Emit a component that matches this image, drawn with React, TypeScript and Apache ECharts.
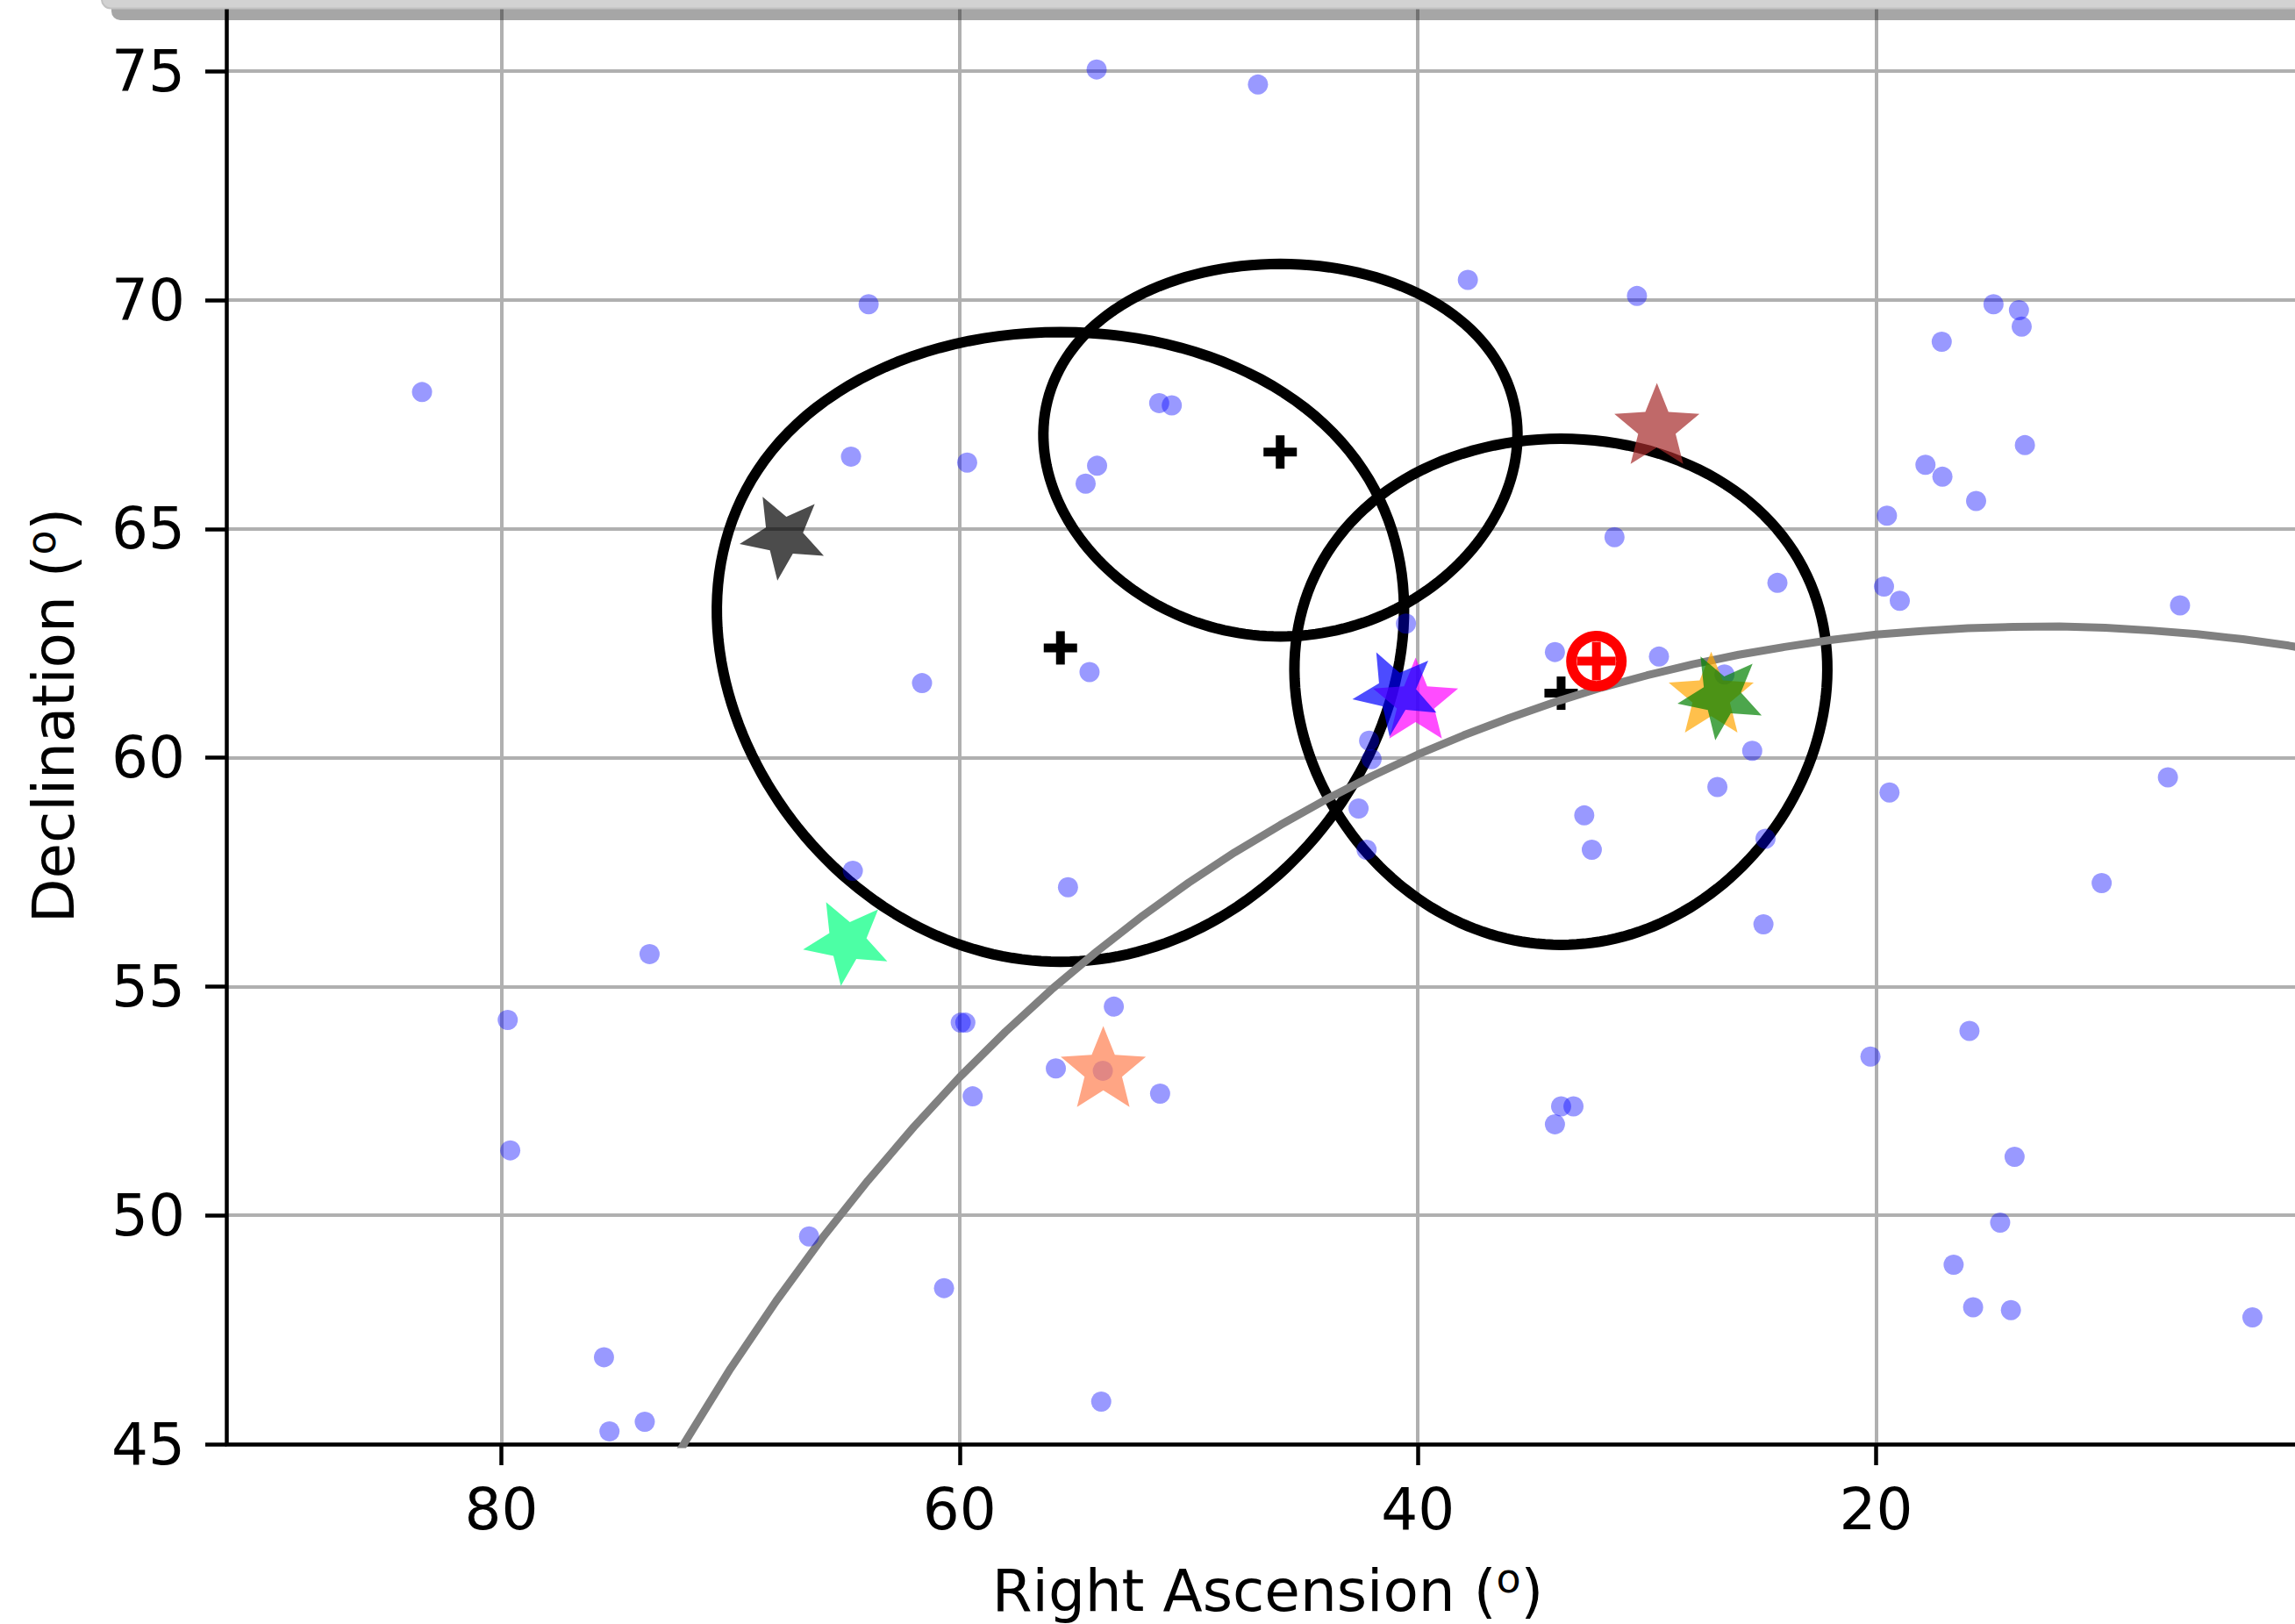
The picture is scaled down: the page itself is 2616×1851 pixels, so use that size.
import React, { useEffect, useRef } from "react";
import * as echarts from "echarts";

// Field sources (blue dots): Right Ascension / Declination in degrees
const dotRA = [83.46, 54.02, 46.98, 63.97, 37.82, 30.44, 14.88, 13.77, 13.65, 17.14, 13.51, 17.85, 17.11, 15.64, 19.53,
  51.29, 50.74, 64.74, 59.67, 54.0, 54.5, 61.64, 54.33, 40.52, 42.13, 42.02, 42.59, 42.24, 64.66, 55.27, 53.27,
  59.95, 59.75, 53.75, 55.8, 59.43, 51.25, 66.57, 60.68, 53.82, 79.61, 75.52, 75.28, 73.74, 73.53, 79.72, 31.42,
  24.31, 19.66, 18.97, 6.74, 34.02, 29.48, 26.62, 25.41, 26.93, 32.74, 32.41, 24.83, 24.92, 19.42, 7.27, 10.16,
  15.93, 20.25, 33.75, 33.21, 34.02, 13.96, 14.59, 16.62, 15.77, 14.12, 3.58];
const dotDec = [67.99, 75.04, 74.71, 69.91, 70.44, 70.09, 69.91, 69.78, 69.42, 69.09, 66.83, 66.4, 66.14, 65.61, 65.29,
  67.75, 67.7, 66.58, 66.45, 66.38, 65.99, 61.63, 61.87, 62.93, 60.37, 59.97, 58.89, 57.99, 57.53, 57.17, 54.56,
  54.21, 54.21, 53.16, 53.21, 52.6, 52.66, 49.54, 48.41, 45.93, 51.42, 46.9, 45.28, 45.49, 55.71, 54.27, 64.82,
  63.82, 63.74, 63.43, 63.33, 62.31, 62.21, 61.82, 60.15, 59.36, 58.74, 57.99, 58.23, 56.36, 59.24, 59.57, 57.26,
  54.03, 53.47, 52.38, 52.38, 51.99, 51.28, 49.84, 48.92, 47.99, 47.93, 47.77];

// Star markers
const starRA = [67.68, 29.57, 64.91, 53.73, 40.1, 40.93, 27.2, 26.75];
const starDec = [64.84, 67.21, 55.98, 53.16, 61.21, 61.43, 61.34, 61.35];
const starRot = [28, 0, 28, 0, 0, 27, 0, 28];
const starColor = ["#000000", "#a52a2a", "#00ff7f", "#ff7f50", "#ff00ff", "#0000ff", "#ffa500", "#008000"];

// Search circles (small circles on the sky): centre and radius in degrees
const circleRA = [55.6, 46.0, 33.76];
const circleDec = [62.42, 66.72, 61.44];
const circleRadius = [6.88, 4.07, 5.53];

// Centre crosses
const crossRA = [55.6, 46.01, 33.75];
const crossDec = [62.4, 66.68, 61.41];

// Red circled-plus marker
const sunRA = [32.21];
const sunDec = [62.11];

// Grey curve (galactic plane)
const planeRA = [0, 2, 4, 6, 8, 10, 12, 14, 16, 18, 20, 22, 24, 26, 28, 30, 32, 34, 36, 38, 40, 42, 44, 46, 48, 50,
  52, 54, 56, 58, 60, 62, 64, 66, 68, 70, 72, 74];
const planeDec = [62.27, 62.45, 62.59, 62.7, 62.78, 62.84, 62.87, 62.86, 62.83, 62.77, 62.69, 62.57, 62.42, 62.25,
  62.04, 61.8, 61.53, 61.22, 60.87, 60.49, 60.07, 59.6, 59.09, 58.53, 57.93, 57.27, 56.55, 55.77, 54.93, 54.01,
  53.02, 51.93, 50.76, 49.5, 48.13, 46.65, 45.03, 43.29];

const xTicks = [20, 40, 60, 80];
const yTicks = [45, 50, 55, 60, 65, 70, 75];

const FONT = "DejaVu Sans";
const D2R = Math.PI / 180;

export default function App() {
  const ref = useRef<HTMLDivElement>(null);
  useEffect(() => {
    if (!ref.current) return;
    const chart = echarts.init(ref.current, null, { renderer: "svg" });
    const option: any = {
      animation: false,
      backgroundColor: "#ffffff",
      grid: { left: 258, right: 0, top: 3, bottom: 202 },
      xAxis: {
        type: "value",
        inverse: true,
        min: 0,
        max: 92,
        interval: 20,
        name: "Right Ascension ({sup|o})",
        nameLocation: "middle",
        nameGap: 130,
        nameTextStyle: {
          fontFamily: FONT,
          fontSize: 66,
          color: "#000",
          padding: [0, 29, 0, 0],
          rich: { sup: { fontFamily: FONT, fontSize: 46, color: "#000", verticalAlign: "bottom", padding: [0, 0, 28, 0] } },
        },
        axisLine: { show: true, onZero: false, lineStyle: { color: "#000", width: 4.5 } },
        axisTick: { show: true, length: 24, customValues: xTicks, lineStyle: { color: "#000", width: 4.5 } },
        axisLabel: {
          customValues: xTicks,
          margin: 41,
          fontFamily: FONT,
          fontSize: 66,
          color: "#000",
          formatter: (v: number) => (xTicks.indexOf(v) >= 0 ? String(v) : ""),
        },
        splitLine: { show: true, lineStyle: { color: "#b0b0b0", width: 4 } },
      },
      yAxis: {
        type: "value",
        min: 45,
        max: 76.5,
        interval: 5,
        name: "Declination ({sup|o})",
        nameLocation: "middle",
        nameGap: 160,
        nameTextStyle: {
          fontFamily: FONT,
          fontSize: 66,
          color: "#000",
          padding: [0, 0, 0, 18],
          rich: { sup: { fontFamily: FONT, fontSize: 46, color: "#000", verticalAlign: "bottom", padding: [0, 0, 28, 0] } },
        },
        axisLine: { show: true, onZero: false, lineStyle: { color: "#000", width: 4.5 } },
        axisTick: { show: true, length: 24, customValues: yTicks, lineStyle: { color: "#000", width: 4.5 } },
        axisLabel: {
          customValues: yTicks,
          margin: 47,
          fontFamily: FONT,
          fontSize: 66,
          color: "#000",
          formatter: (v: number) => (yTicks.indexOf(v) >= 0 ? String(v) : ""),
        },
        splitLine: { show: true, lineStyle: { color: "#b0b0b0", width: 4 } },
      },
      series: [
        {
          type: "custom",
          name: "circles",
          z: 2,
          encode: { x: 0, y: 1 },
          data: circleRA.map((ra, i) => [ra, circleDec[i], circleRadius[i]]),
          renderItem: (params: any, api: any) => {
            const ra0 = api.value(0) as number;
            const dec0 = (api.value(1) as number) * D2R;
            const r = (api.value(2) as number) * D2R;
            const pts: number[][] = [];
            for (let k = 0; k <= 360; k += 2) {
              const th = k * D2R;
              const sd = Math.sin(dec0) * Math.cos(r) + Math.cos(dec0) * Math.sin(r) * Math.cos(th);
              const dec = Math.asin(sd);
              const dra = Math.atan2(Math.sin(th) * Math.sin(r) * Math.cos(dec0), Math.cos(r) - Math.sin(dec0) * sd);
              pts.push(api.coord([ra0 + dra / D2R, dec / D2R]));
            }
            return {
              type: "polygon",
              shape: { points: pts },
              style: { fill: "none", stroke: "#000", lineWidth: 12 },
            };
          },
        },
        {
          type: "custom",
          name: "centres",
          z: 3,
          encode: { x: 0, y: 1 },
          data: crossRA.map((ra, i) => [ra, crossDec[i]]),
          renderItem: (params: any, api: any) => {
            const c = api.coord([api.value(0), api.value(1)]);
            const L = 19, T = 5;
            return {
              type: "group",
              children: [
                { type: "rect", shape: { x: c[0] - L, y: c[1] - T, width: 2 * L, height: 2 * T }, style: { fill: "#000" } },
                { type: "rect", shape: { x: c[0] - T, y: c[1] - L, width: 2 * T, height: 2 * L }, style: { fill: "#000" } },
              ],
            };
          },
        },
        {
          type: "line",
          name: "plane",
          z: 4,
          data: planeRA.map((ra, i) => [ra, planeDec[i]]),
          showSymbol: false,
          symbol: "none",
          clip: true,
          smooth: false,
          lineStyle: { color: "#808080", width: 9 },
        },
        {
          type: "scatter",
          name: "sources",
          z: 5,
          data: dotRA.map((ra, i) => [ra, dotDec[i]]),
          symbol: "circle",
          symbolSize: 23,
          itemStyle: { color: "#0000ff", opacity: 0.4 },
        },
        {
          type: "custom",
          name: "stars",
          z: 6,
          encode: { x: 0, y: 1 },
          data: starRA.map((ra, i) => [ra, starDec[i], starRot[i]]),
          renderItem: (params: any, api: any) => {
            const c = api.coord([api.value(0), api.value(1)]);
            const rot = (api.value(2) as number) * D2R;
            const R = 51, ri = R * 0.44;
            const pts: number[][] = [];
            for (let k = 0; k < 10; k++) {
              const phi = -rot + (k * Math.PI) / 5;
              const rr = k % 2 === 0 ? R : ri;
              pts.push([c[0] + rr * Math.sin(phi), c[1] - rr * Math.cos(phi)]);
            }
            const col = starColor[params.dataIndex];
            return {
              type: "polygon",
              shape: { points: pts },
              style: { fill: col, opacity: 0.7 },
            };
          },
        },
        {
          type: "custom",
          name: "sun",
          z: 7,
          encode: { x: 0, y: 1 },
          data: sunRA.map((ra, i) => [ra, sunDec[i]]),
          renderItem: (params: any, api: any) => {
            const c = api.coord([api.value(0), api.value(1)]);
            const L = 22, T = 5;
            return {
              type: "group",
              children: [
                { type: "circle", shape: { cx: c[0], cy: c[1], r: 28.5 }, style: { fill: "#ffffff", stroke: "#ff0000", lineWidth: 12 } },
                { type: "rect", shape: { x: c[0] - L, y: c[1] - T, width: 2 * L, height: 2 * T }, style: { fill: "#ff0000" } },
                { type: "rect", shape: { x: c[0] - T, y: c[1] - L, width: 2 * T, height: 2 * L }, style: { fill: "#ff0000" } },
              ],
            };
          },
        },
      ],
      graphic: [
        {
          type: "rect",
          z: 99,
          shape: { x: 127, y: -30, width: 2700, height: 53, r: 10 },
          style: { fill: "rgba(0,0,0,0.35)" },
        },
        {
          type: "rect",
          z: 100,
          shape: { x: 116, y: -40, width: 2700, height: 49.5, r: 10 },
          style: { fill: "#d2d2d2", stroke: "#c2c2c2", lineWidth: 2 },
        },
      ],
    };
    chart.setOption(option);
    return () => chart.dispose();
  }, []);
  return (
    <div style={{ position: "fixed", left: 0, top: 0, width: 2616, height: 1851, overflow: "hidden", background: "#fff" }}>
      <div ref={ref} style={{ position: "absolute", left: 0, top: 0, width: 2661, height: 1851 }} />
    </div>
  );
}
